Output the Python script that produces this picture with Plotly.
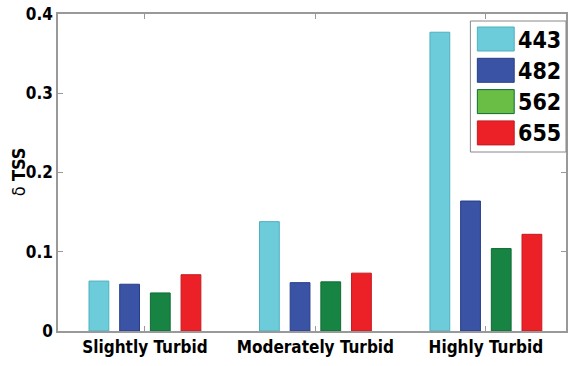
import plotly.graph_objects as go

categories = ["Slightly Turbid", "Moderately Turbid", "Highly Turbid"]
wavelengths = ["443", "482", "562", "655"]
v443 = [0.063, 0.138, 0.377]
v482 = [0.059, 0.061, 0.164]
v562 = [0.048, 0.062, 0.104]
v655 = [0.071, 0.073, 0.122]
series = [v443, v482, v562, v655]
bar_colors = ["#6DCCDA", "#3A53A4", "#188444", "#EC2027"]
edge_colors = ["#4FAFBF", "#263E8A", "#0F6A33", "#C41A20"]
legend_colors = ["#6DCCDA", "#3A53A4", "#6ABD45", "#EC2027"]
yticks = [0, 0.1, 0.2, 0.3, 0.4]
ytick_text = ["0", "0.1", "0.2", "0.3", "0.4"]

FONT = "DejaVu Sans Condensed, Liberation Sans Narrow, Arial Narrow, Liberation Sans, Arial, sans-serif"

fig = go.Figure()
xs = [1, 2, 3]
for name, vals, c, e in zip(wavelengths, series, bar_colors, edge_colors):
    fig.add_trace(go.Bar(x=xs, y=vals, name=name, marker=dict(color=c, line=dict(color=e, width=1)),
                         showlegend=False))

fig.update_layout(
    width=571, height=366,
    margin=dict(l=58, r=3, t=14, b=35),
    paper_bgcolor="white", plot_bgcolor="white",
    barmode="group", bargap=0.28, bargroupgap=0.355,
    font=dict(family=FONT, color="black"),
)
fig.update_xaxes(
    range=[0.49, 3.47], tickvals=xs, ticktext=categories,
    ticks="inside", ticklen=5, tickcolor="#999999", mirror="ticks",
    showline=True, linecolor="#999999", linewidth=1.5, showgrid=False, zeroline=False,
    tickfont=dict(family=FONT, size=17, color="black", weight="bold"),
)
fig.update_yaxes(
    range=[0, 0.4], tickvals=yticks, ticktext=ytick_text,
    ticks="inside", ticklen=5, tickcolor="#999999", mirror="ticks",
    showline=True, linecolor="#999999", linewidth=1.5, showgrid=False, zeroline=False,
    tickfont=dict(family=FONT, size=17, color="black", weight="bold"),
)
fig.add_annotation(xref="paper", yref="paper", x=(18 - 58) / 510.0, y=(331 - 172) / 317.0,
                   text="δ <b>TSS</b>",
                   textangle=-90, showarrow=False, font=dict(family=FONT, size=18, color="black"),
                   xanchor="center", yanchor="middle")

# custom legend (paper coords: plot area x 58..568, y 14..331)
def px_x(p):
    return (p - 58) / 510.0

def px_y(p):
    return (331 - p) / 317.0

fig.add_shape(type="rect", xref="paper", yref="paper",
              x0=px_x(472), x1=px_x(568), y0=px_y(152), y1=px_y(21),
              line=dict(color="#888888", width=1), fillcolor="white", layer="above")
for i, (name, c, e) in enumerate(zip(wavelengths, legend_colors, edge_colors)):
    top = 27 + i * 31.3
    fig.add_shape(type="rect", xref="paper", yref="paper",
                  x0=px_x(479), x1=px_x(516), y0=px_y(top + 24), y1=px_y(top),
                  line=dict(color=e, width=1), fillcolor=c, layer="above")
    fig.add_annotation(xref="paper", yref="paper", x=px_x(518), y=px_y(top + 12.5), text="<b>%s</b>" % name,
                       showarrow=False, xanchor="left", yanchor="middle",
                       font=dict(family=FONT, size=23, color="black"))

fig.write_html("out.html")
